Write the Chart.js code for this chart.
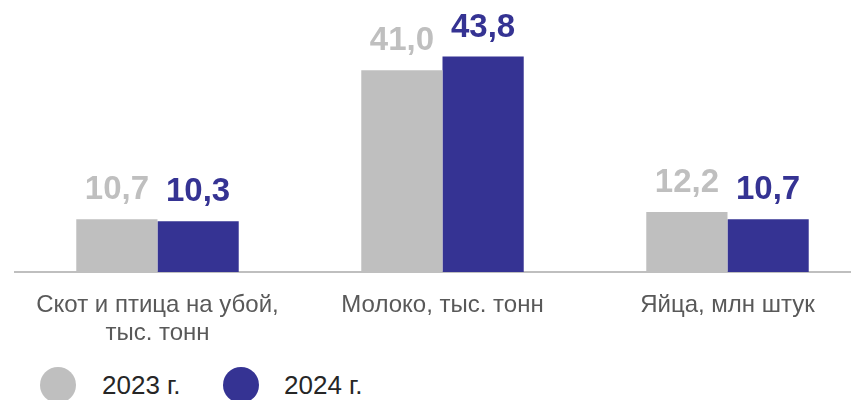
<!DOCTYPE html>
<html>
<head>
<meta charset="utf-8">
<script src="https://cdn.jsdelivr.net/npm/chart.js@4"></script>
<style>
  html, body { margin: 0; padding: 0; background: #fff; overflow: hidden; width: 851px; height: 400px; }
  #wrap { position: absolute; left: 0; top: 0; width: 870px; height: 350px; }
  .lg { position: absolute; font-family: "Liberation Sans", Arial, sans-serif; font-size: 26px; line-height: 26px; color: #262626; }
  .dot { position: absolute; width: 36px; height: 36px; border-radius: 50%; }
</style>
</head>
<body>
<div id="wrap"><canvas id="chart"></canvas></div>
<div class="dot" style="left:40px; top:367px; background:#bfbfbf"></div>
<div class="lg" style="left:102px; top:372px">2023 г.</div>
<div class="dot" style="left:223px; top:367px; background:#353393"></div>
<div class="lg" style="left:284px; top:372px">2024 г.</div>
<script>
var categories = [['Скот и птица на убой,', 'тыс. тонн'], 'Молоко, тыс. тонн', 'Яйца, млн штук'];
var values2023 = [10.7, 41.0, 12.2];
var values2024 = [10.3, 43.8, 10.7];
var seriesNames = ['2023 г.', '2024 г.'];
var colors = ['#bfbfbf', '#353393'];

var valueLabels = {
    id: 'valueLabels',
    afterDatasetsDraw: function(chart) {
        var ctx = chart.ctx;
        ctx.save();
        ctx.font = 'bold 33px "Liberation Sans", Arial, sans-serif';
        ctx.textAlign = 'center';
        ctx.textBaseline = 'alphabetic';
        chart.data.datasets.forEach(function(ds, i) {
            var meta = chart.getDatasetMeta(i);
            ctx.fillStyle = colors[i];
            meta.data.forEach(function(bar, j) {
                var txt = ds.data[j].toFixed(1).replace('.', ',');
                ctx.fillText(txt, bar.x, bar.y - 20);
            });
        });
        ctx.restore();
    }
};

var ctx = document.getElementById('chart').getContext('2d');
var chart = new Chart(ctx, {
    type: 'bar',
    data: {
        labels: categories,
        datasets: [
            { label: seriesNames[0], data: values2023, backgroundColor: colors[0], borderWidth: 0 },
            { label: seriesNames[1], data: values2024, backgroundColor: colors[1], borderWidth: 0 }
        ]
    },
    options: {
        responsive: true,
        maintainAspectRatio: false,
        animation: false,
        layout: { padding: { left: 15, right: 0, top: 26, bottom: 0 } },
        datasets: { bar: { categoryPercentage: 0.57, barPercentage: 1 } },
        plugins: { legend: { display: false }, tooltip: { enabled: false } },
        scales: {
            x: {
                grid: { display: false, drawTicks: false },
                border: { color: '#bfbfbf', width: 2 },
                ticks: {
                    color: '#595959',
                    padding: 20,
                    maxRotation: 0,
                    autoSkip: false,
                    font: { family: '"Liberation Sans", Arial, sans-serif', size: 24, lineHeight: 1.15 }
                },
                afterFit: function(scale) { scale.height = 78; }
            },
            y: {
                display: false,
                min: 0,
                max: 50
            }
        }
    },
    plugins: [valueLabels]
});
</script>
</body>
</html>
